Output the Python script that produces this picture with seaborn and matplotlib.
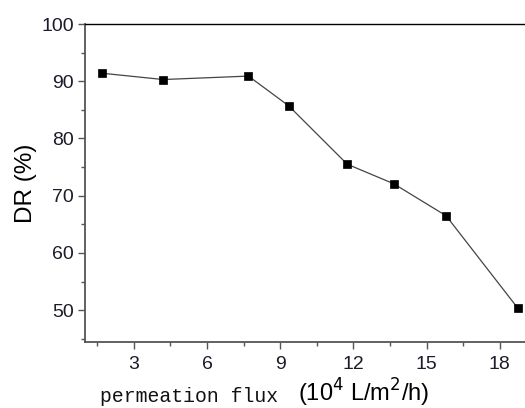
import matplotlib
matplotlib.use("Agg")
import matplotlib.pyplot as plt
from matplotlib.ticker import MultipleLocator
import seaborn as sns
import pandas as pd

flux = [1.7, 4.2, 7.7, 9.35, 11.75, 13.65, 15.8, 18.75]
dr = [91.4, 90.3, 90.9, 85.7, 75.5, 72.1, 66.5, 50.3]
x_ticks = [3, 6, 9, 12, 15, 18]
y_ticks = [50, 60, 70, 80, 90, 100]

sns.set_theme(style="white")
plt.rcParams['font.family'] = ['Liberation Sans', 'DejaVu Sans']

df = pd.DataFrame({"flux": flux, "dr": dr})

fig = plt.figure(figsize=(5.25, 4.08), dpi=100)
ax = fig.add_axes([85/525, 1-341.7/408, 446.5/525, (341.7-24)/408])

sns.lineplot(data=df, x="flux", y="dr", ax=ax, color="#444444", linewidth=0.9,
             marker="s", markersize=6.2, markerfacecolor="black",
             markeredgecolor="black", markeredgewidth=0.5)

ax.set_xlim(1.0, 19.3)
ax.set_ylim(44.5, 100)
ax.set_xticks(x_ticks)
ax.set_yticks(y_ticks)
ax.xaxis.set_minor_locator(MultipleLocator(1.5))
ax.yaxis.set_minor_locator(MultipleLocator(5))
ax.tick_params(axis="both", which="major", direction="out", length=5, width=1.0,
               color="#555555", labelsize=14, labelcolor="#1c1c2a", pad=3,
               bottom=True, left=True)
ax.tick_params(axis="x", which="major", pad=5)
ax.tick_params(axis="both", which="minor", direction="out", length=3, width=1.0,
               color="#555555", bottom=True, left=True)

ax.set_xlabel("")
ax.set_ylabel("DR (%)", fontsize=17.5, color="black", labelpad=3)

for s in ["left", "bottom"]:
    ax.spines[s].set_color("#555555")
    ax.spines[s].set_linewidth(1.3)
ax.spines["top"].set_color("black")
ax.spines["top"].set_linewidth(1.0)
ax.spines["right"].set_visible(False)

fig.text(100/525, 1-401.5/408, "permeation flux", family="Liberation Mono",
         fontsize=14.2, color="#111111", ha="left", va="baseline")
fig.text(298/525, 1-401.5/408, r"(10$^4$ L/m$^2$/h)", fontsize=17,
         color="black", ha="left", va="baseline")

fig.savefig("out.png", dpi=100, facecolor="white")
